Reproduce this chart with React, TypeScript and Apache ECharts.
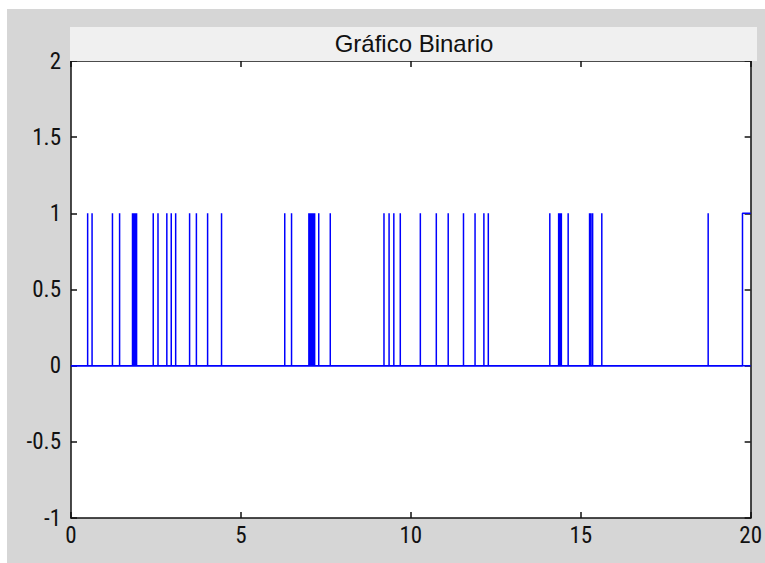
import React, { useEffect, useRef } from "react";
import * as echarts from "echarts";

// Times (x) at which the binary signal spikes to 1
const spikeTimes: number[] = [
  0.49, 0.62, 1.22, 1.43, 1.81, 1.84, 1.87, 1.9, 1.93, 2.42, 2.56, 2.82, 2.95,
  3.08, 3.49, 3.69, 4.02, 4.43, 6.29, 6.49, 7.0, 7.03, 7.06, 7.09, 7.12, 7.15,
  7.17, 7.29, 7.63, 9.21, 9.36, 9.5, 9.69, 10.28, 10.75, 11.1, 11.55, 11.89,
  12.15, 12.28, 14.09, 14.35, 14.39, 14.43, 14.63, 15.26, 15.3, 15.35, 15.62,
  18.75,
];
// Final rise: signal goes to 1 here and stays high until the end
const finalRise = 19.76;
const xRange = [0, 20];
const yRange = [-1, 2];
const xTickStep = 5;
const yTickStep = 0.5;
const chartTitle = "Gráfico Binario";

const labelFont = "'Roboto Condensed', 'DejaVu Sans Condensed', sans-serif";

export default function App() {
  const ref = useRef<HTMLDivElement>(null);

  useEffect(() => {
    if (!ref.current) return;
    const chart = echarts.init(ref.current, undefined, { renderer: "svg", width: 758, height: 554 });

    const signal: number[][] = [[xRange[0], 0]];
    for (const s of spikeTimes) {
      signal.push([s, 0], [s, 1], [s, 0]);
    }
    signal.push([finalRise, 0], [finalRise, 1], [xRange[1], 1]);
    const baseline = [
      [xRange[0], 0],
      [xRange[1], 0],
    ];

    const axisLine = { show: true, onZero: false, lineStyle: { color: "#111", width: 1.5 } };
    const axisTick = { show: true, inside: true, length: 6, lineStyle: { color: "#111", width: 1.5 } };

    chart.setOption({
      animation: false,
      backgroundColor: "#d6d6d6",
      grid: {
        left: 64,
        width: 686,
        top: 52,
        height: 457,
        show: true,
        backgroundColor: "#ffffff",
        borderWidth: 0,
      },
      graphic: [
        {
          type: "rect",
          x: 63,
          y: 18,
          shape: { width: 687, height: 34 },
          style: { fill: "#f0f0f0" },
          z: 10,
        },
        {
          type: "text",
          x: 407,
          y: 34,
          style: {
            text: chartTitle,
            fill: "#111",
            font: "24px 'Liberation Sans', Arial, sans-serif",
            textAlign: "center",
            textVerticalAlign: "middle",
          },
          z: 11,
        },
      ],
      xAxis: [
        {
          type: "value",
          position: "bottom",
          min: xRange[0],
          max: xRange[1],
          interval: xTickStep,
          axisLine,
          axisTick,
          splitLine: { show: false },
          axisLabel: {
            color: "#111",
            fontSize: 23,
            fontFamily: labelFont,
            margin: 6,
          },
        },
        {
          type: "value",
          position: "top",
          min: xRange[0],
          max: xRange[1],
          interval: xTickStep,
          axisLine,
          axisTick,
          splitLine: { show: false },
          axisLabel: { show: false },
        },
      ],
      yAxis: [
        {
          type: "value",
          position: "left",
          min: yRange[0],
          max: yRange[1],
          interval: yTickStep,
          axisLine,
          axisTick,
          splitLine: { show: false },
          axisLabel: {
            color: "#111",
            fontSize: 23,
            fontFamily: labelFont,
            margin: 10,
          },
        },
        {
          type: "value",
          position: "right",
          min: yRange[0],
          max: yRange[1],
          interval: yTickStep,
          axisLine,
          axisTick,
          splitLine: { show: false },
          axisLabel: { show: false },
        },
      ],
      series: [
        {
          type: "line",
          data: baseline,
          xAxisIndex: 0,
          yAxisIndex: 0,
          showSymbol: false,
          lineStyle: { color: "#0000ff", width: 1.5 },
          silent: true,
        },
        {
          type: "line",
          data: signal,
          xAxisIndex: 0,
          yAxisIndex: 0,
          showSymbol: false,
          lineStyle: { color: "#0000ff", width: 1.5 },
          silent: true,
        },
      ],
    });

    return () => chart.dispose();
  }, []);

  return (
    <div
      ref={ref}
      style={{ position: "fixed", left: 7, top: 9, width: 758, height: 554, background: "#d6d6d6" }}
    />
  );
}
